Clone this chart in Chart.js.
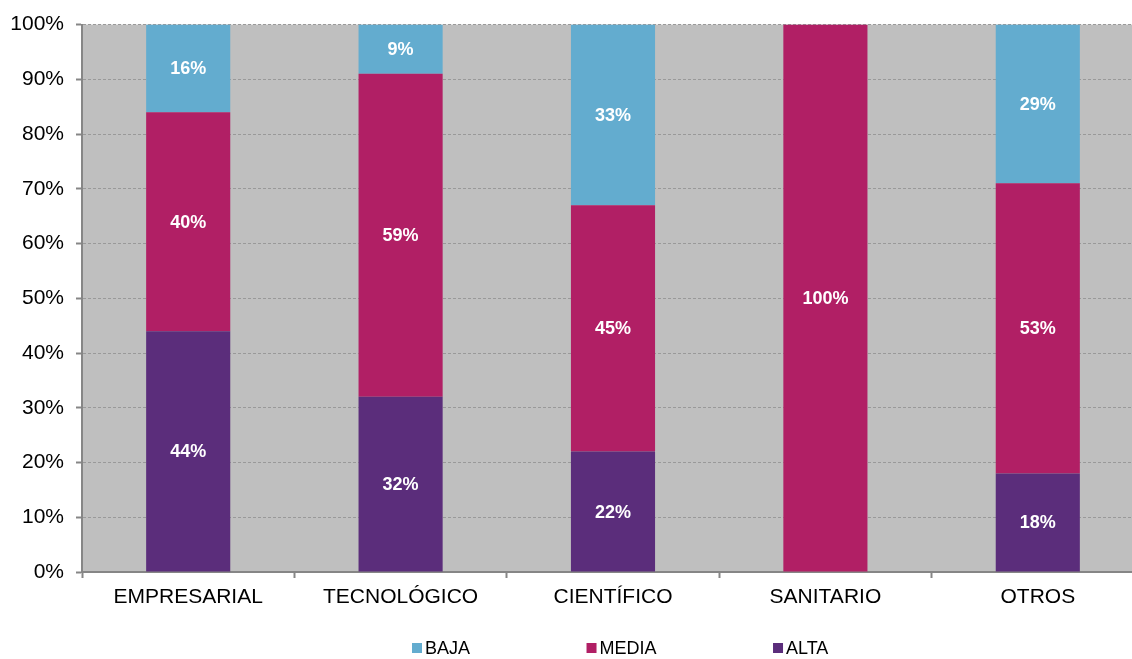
<!DOCTYPE html>
<html><head><meta charset="utf-8">
<script src="https://cdn.jsdelivr.net/npm/chart.js@4/dist/chart.umd.min.js"></script>
<style>html,body{margin:0;padding:0;background:#fff;overflow:hidden}#wrap{width:1132px;height:659px;overflow:hidden}</style>
</head><body><div id="wrap"><canvas id="c" width="1144" height="659"></canvas></div>
<script>
const categories = ['EMPRESARIAL', 'TECNOLÓGICO', 'CIENTÍFICO', 'SANITARIO', 'OTROS'];
const alta  = [44, 32, 22, 0, 18];
const media = [40, 59, 45, 100, 53];
const baja  = [16, 9, 33, 0, 29];
const seriesNames = ['ALTA', 'MEDIA', 'BAJA'];
const legendOrder = ['BAJA', 'MEDIA', 'ALTA'];

const colors = { ALTA: '#5B2D7B', MEDIA: '#B11F65', BAJA: '#63ACCF' };
const FONT = '"Liberation Sans", Arial, sans-serif';

const bgPlugin = {
  id: 'bg',
  beforeDraw(chart) {
    const { ctx, chartArea: a } = chart;
    ctx.save();
    ctx.fillStyle = '#fff';
    ctx.fillRect(0, 0, chart.width, chart.height);
    ctx.fillStyle = '#BFBFBF';
    ctx.fillRect(a.left, a.top, a.right - a.left, a.bottom - a.top);
    ctx.restore();
  }
};

const valueLabels = {
  id: 'valueLabels',
  afterDatasetsDraw(chart) {
    const { ctx } = chart;
    ctx.save();
    ctx.font = 'bold 18px ' + FONT;
    ctx.fillStyle = '#fff';
    ctx.textAlign = 'center';
    ctx.textBaseline = 'middle';
    chart.data.datasets.forEach((ds, di) => {
      const meta = chart.getDatasetMeta(di);
      meta.data.forEach((el, i) => {
        const v = ds.data[i];
        if (!v) return;
        const p = el.getProps(['x', 'y', 'base'], true);
        ctx.fillText(v + '%', p.x, (p.y + p.base) / 2 + 1);
      });
    });
    ctx.restore();
  }
};

const customLegend = {
  id: 'customLegend',
  afterDraw(chart) {
    const { ctx } = chart;
    ctx.save();
    ctx.font = '18px ' + FONT;
    ctx.textBaseline = 'middle';
    ctx.textAlign = 'left';
    let x = 412;
    const y = 648;
    legendOrder.forEach(name => {
      ctx.fillStyle = colors[name];
      ctx.fillRect(x, y - 5, 10, 10);
      ctx.fillStyle = '#000';
      ctx.fillText(name, x + 13, y + 1);
      x += 13 + ctx.measureText(name).width + 116.5;
    });
    ctx.restore();
  }
};

const seriesData = { ALTA: alta, MEDIA: media, BAJA: baja };

new Chart(document.getElementById('c'), {
  type: 'bar',
  data: {
    labels: categories,
    datasets: seriesNames.map(n => ({
      label: n,
      data: seriesData[n],
      backgroundColor: colors[n],
      borderWidth: 0,
      categoryPercentage: 1,
      barPercentage: 0.396
    }))
  },
  options: {
    responsive: false,
    animation: false,
    layout: { padding: { top: 23, right: 0, left: 0, bottom: 0 } },
    plugins: { legend: { display: false }, tooltip: { enabled: false } },
    scales: {
      x: {
        stacked: true,
        afterFit(s) { s.height = 87; },
        grid: { drawOnChartArea: false, drawTicks: true, tickLength: 6, tickColor: '#868686', tickWidth: 2, offset: true },
        border: { display: true, color: '#868686', width: 2 },
        ticks: { color: '#000', font: { family: FONT, size: 21 }, padding: 7, maxRotation: 0 }
      },
      y: {
        stacked: true,
        min: 0, max: 100,
        afterFit(s) { s.width = 82; },
        grid: { color: '#999999', lineWidth: 1, tickLength: 6, tickColor: '#868686', tickWidth: 2, tickBorderDash: [] },
        border: { display: true, color: '#868686', width: 2, dash: [3, 2] },
        ticks: { stepSize: 10, color: '#000', font: { family: FONT, size: 21 }, padding: 12,
                 callback: v => v + '%' }
      }
    }
  },
  plugins: [bgPlugin, valueLabels, customLegend]
});
</script></body></html>
